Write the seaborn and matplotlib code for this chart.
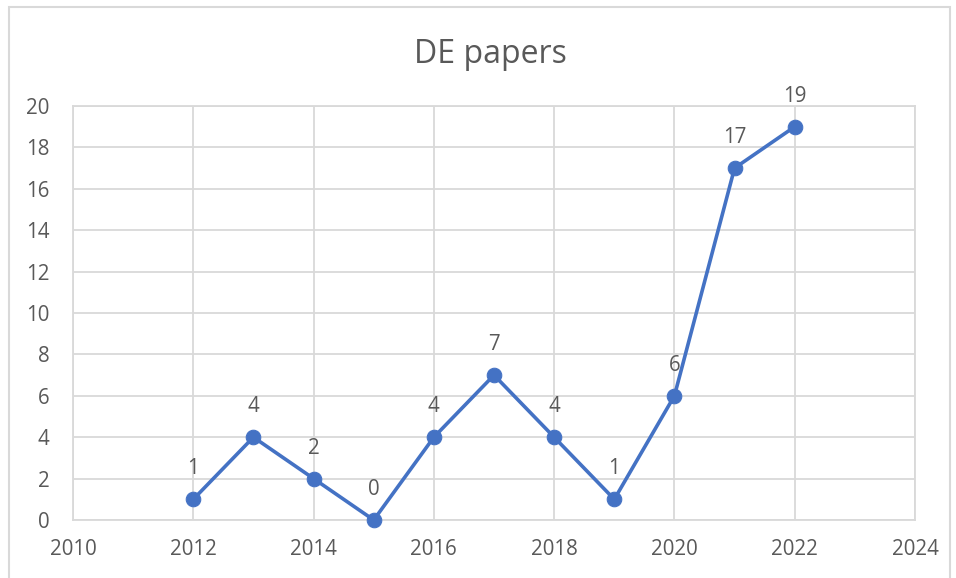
import matplotlib
matplotlib.use("Agg")
import matplotlib.pyplot as plt
import seaborn as sns
import pandas as pd
from matplotlib.patches import Rectangle

years = [2012, 2013, 2014, 2015, 2016, 2017, 2018, 2019, 2020, 2021, 2022]
papers = [1, 4, 2, 0, 4, 7, 4, 1, 6, 17, 19]
x_ticks = [2010, 2012, 2014, 2016, 2018, 2020, 2022, 2024]
y_ticks = [0, 2, 4, 6, 8, 10, 12, 14, 16, 18, 20]
title = "DE papers"

sns.set_theme(style="white")
plt.rcParams['font.family'] = ['Open Sans', 'DejaVu Sans']

text_color = "#595959"
grid_color = "#D9D9D9"
line_color = "#4472C4"

df = pd.DataFrame({"year": years, "papers": papers})

fig = plt.figure(figsize=(9.56, 5.78), dpi=100)
ax = fig.add_axes([73/956, 1-520/578, (915-73)/956, (520-106)/578])

sns.lineplot(data=df, x="year", y="papers", ax=ax, color=line_color,
             linewidth=2.6, marker="o", markersize=10.5, markeredgecolor=line_color,
             zorder=3, clip_on=False)

for xv, yv in zip(years, papers):
    ax.annotate(str(yv), (xv, yv), xytext=(0, 18), textcoords="offset points",
                ha="center", va="baseline", fontsize=14.8, color=text_color)

ax.set_xlim(2010, 2024)
ax.set_ylim(0, 20)
ax.set_xticks(x_ticks)
ax.set_yticks(y_ticks)
ax.set_xticklabels([str(t) for t in x_ticks])
ax.set_yticklabels([str(t) for t in y_ticks])
ax.tick_params(axis="both", length=0, labelsize=14.8, labelcolor=text_color)
ax.tick_params(axis="x", pad=14)
ax.tick_params(axis="y", pad=17)
ax.grid(True, color=grid_color, linewidth=1.3)
ax.set_axisbelow(True)
for s in ax.spines.values():
    s.set_color(grid_color)
    s.set_linewidth(1.3)
ax.set_xlabel("")
ax.set_ylabel("")

fig.text(490/956, 1-63/578, title, ha="center", va="baseline", fontsize=23, color=text_color)

fig.patches.append(Rectangle((9/956, -0.05), (950-9)/956, 1.05 - 7/578,
                             transform=fig.transFigure, fill=False,
                             edgecolor=grid_color, linewidth=1.5))

fig.savefig("out.png", dpi=100)
